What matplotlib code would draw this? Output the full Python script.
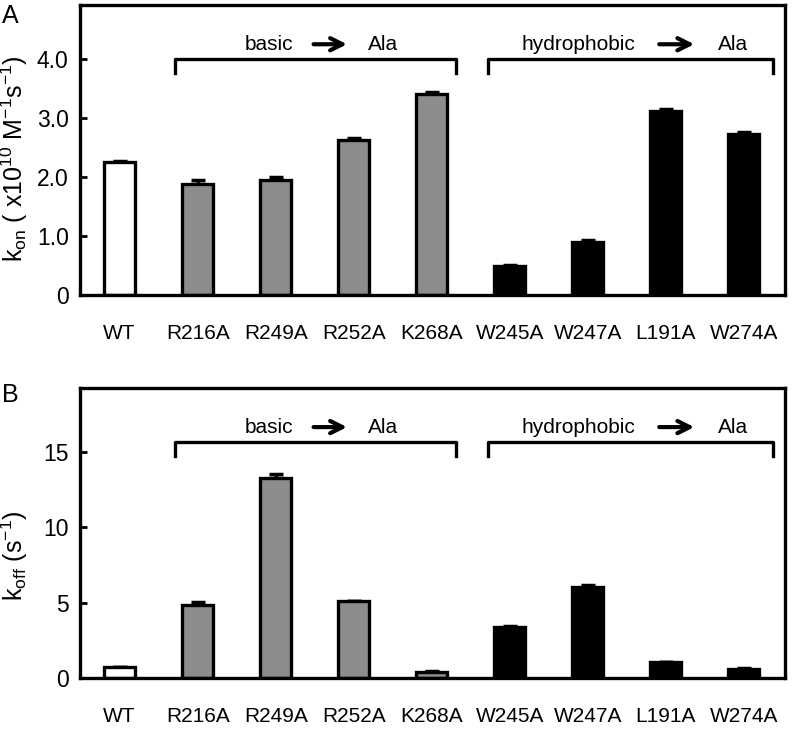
import matplotlib
matplotlib.use("Agg")
import matplotlib.pyplot as plt
import matplotlib.transforms as mtransforms

plt.rcParams['font.family'] = ['Liberation Sans', 'DejaVu Sans']
plt.rcParams['mathtext.fontset'] = 'custom'
plt.rcParams['mathtext.rm'] = 'Liberation Sans'

# data
mutants = ["WT", "R216A", "R249A", "R252A", "K268A", "W245A", "W247A", "L191A", "W274A"]
kon = [2.25, 1.88, 1.95, 2.63, 3.41, 0.50, 0.90, 3.12, 2.73]
kon_err = [0.02, 0.08, 0.05, 0.03, 0.03, 0.01, 0.03, 0.03, 0.03]
koff = [0.71, 4.85, 13.3, 5.1, 0.42, 3.4, 6.05, 1.02, 0.6]
koff_err = [0.03, 0.2, 0.25, 0.03, 0.03, 0.02, 0.1, 0.02, 0.02]
colors = ["white"] + ["#8c8c8c"] * 4 + ["black"] * 4

x = list(range(len(mutants)))

fig = plt.figure(figsize=(7.98, 7.32), dpi=100)
axA = fig.add_axes([0.100, 0.597, 0.884, 0.396])
axB = fig.add_axes([0.100, 0.074, 0.884, 0.396])


def draw_panel(ax, vals, errs, ymax, yticks, yticklabels, ylabel, label_y):
    ax.bar(x, vals, width=0.40, color=colors, edgecolor="black", linewidth=2.4, zorder=2)
    ax.errorbar(x, vals, yerr=[[0] * len(errs), errs], fmt="none", ecolor="black",
                elinewidth=2.5, capsize=5, capthick=2.5, zorder=1)
    ax.set_xlim(-0.51, 8.53)
    ax.set_ylim(0, ymax)
    ax.set_yticks(yticks)
    ax.set_yticklabels(yticklabels)
    ax.set_xticks(x)
    ax.set_xticklabels(mutants)
    ax.tick_params(axis="x", length=0, pad=21, labelsize=15)
    ax.tick_params(axis="y", direction="in", length=5, width=2, pad=8, labelsize=16.5)
    for s in ax.spines.values():
        s.set_linewidth(2.4)
    ax.set_ylabel(ylabel, fontsize=18)
    ax.yaxis.set_label_coords(-0.07, label_y)

    # group brackets and labels
    tr = mtransforms.blended_transform_factory(ax.transData, ax.transAxes)
    for x0, x1, name, tx, ax0, ax1, alax in [
        (0.705, 4.31, "basic", 1.92, 2.45, 2.95, 3.38),
        (4.72, 8.37, "hydrophobic", 5.88, 6.88, 7.40, 7.86),
    ]:
        ax.plot([x0, x0, x1, x1], [0.765, 0.815, 0.815, 0.765], color="black",
                lw=2.4, transform=tr, clip_on=False, solid_joinstyle="round")
        ax.text(tx, 0.865, name, transform=tr, ha="center", va="center", fontsize=15)
        ax.text(alax, 0.865, "Ala", transform=tr, ha="center", va="center", fontsize=15)
        ax.annotate("", xy=(ax1, 0.865), xytext=(ax0, 0.865), xycoords=tr, textcoords=tr,
                    arrowprops=dict(arrowstyle="->", lw=3, mutation_scale=22, color="black"))


draw_panel(axA, kon, kon_err, 4.92, [0, 1, 2, 3, 4], ["0", "1.0", "2.0", "3.0", "4.0"],
           r"k$_{\mathregular{on}}$ ( x10$^{\mathregular{10}}$ M$^{\mathregular{-1}}$s$^{\mathregular{-1}}$)",
           0.47)
draw_panel(axB, koff, koff_err, 19.25, [0, 5, 10, 15], ["0", "5", "10", "15"],
           r"k$_{\mathregular{off}}$ (s$^{\mathregular{-1}}$)", 0.42)

fig.text(0.003, 0.978, "A", fontsize=18, va="center")
fig.text(0.003, 0.460, "B", fontsize=18, va="center")

fig.savefig("out.png", dpi=100)
